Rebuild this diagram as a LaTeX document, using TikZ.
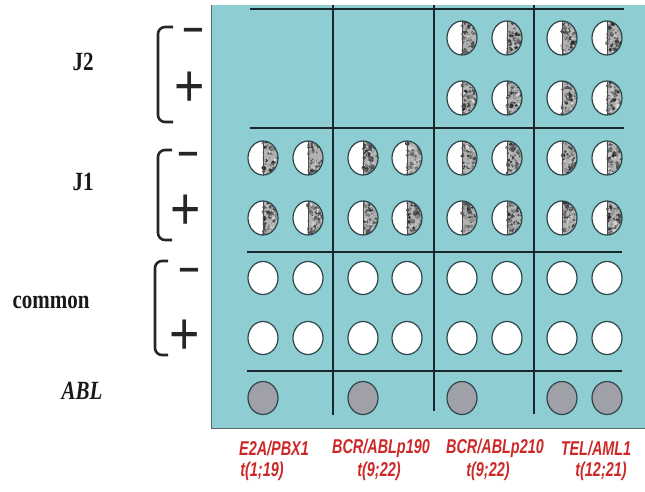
\documentclass[tikz,border=0pt]{standalone}
\usepackage{fontspec}
\setmainfont{Liberation Serif}
\newfontfamily\redfont[FakeStretch=0.72]{Liberation Sans}
\newfontfamily\signfont{Liberation Sans}
\usetikzlibrary{shapes.geometric}
\definecolor{bgteal}{RGB}{142,205,209}
\definecolor{lineclr}{RGB}{25,40,45}
\definecolor{edgeclr}{RGB}{45,70,75}
\definecolor{ablgray}{RGB}{160,160,168}
\definecolor{labred}{RGB}{204,40,40}
\tikzset{
  gridline/.style={draw=lineclr, line width=1.4pt},
  bracketline/.style={draw=black!85, line width=2.6pt, rounded corners=7pt},
  rowlab/.style={font=\bfseries\fontsize{21}{24}\selectfont, text=black!90, inner sep=0pt},
  signlab/.style={font=\signfont\fontsize{52}{52}\selectfont, text=black!85, inner sep=0pt},
  translab/.style={font=\redfont\bfseries\itshape\fontsize{20}{22}\selectfont, text=labred, inner sep=0pt},
  whitedot/.style={ellipse, draw=edgeclr, line width=1.2pt, fill=white, minimum width=30pt, minimum height=33pt, inner sep=0pt},
  abldot/.style={whitedot, fill=ablgray},
  moonedge/.style={draw=edgeclr, line width=1.2pt},
}
\newcommand\tallt[1]{\scalebox{1}[1.25]{#1}}
\newcommand\hmoon[2]{%
  \begin{scope}
    \clip (#1,#2) ellipse [x radius=15pt, y radius=17pt];
    \fill[white] (#1-16,#2-18) rectangle (#1,#2+18);
    \fill[gray!60] (#1,#2-18) rectangle (#1+16,#2+18);
    \foreach \k in {1,...,90}{%
      \pgfmathsetmacro\dx{rnd*15}%
      \pgfmathsetmacro\dy{rand*17}%
      \pgfmathsetmacro\sh{int(15+rnd*70)}%
      \pgfmathsetmacro\rr{0.7+rnd*1.5}%
      \fill[black!\sh] (#1+\dx,#2+\dy) circle [radius=\rr pt];
    }
    \draw[black!70, line width=0.6pt] (#1,#2-18) -- (#1,#2+18);
  \end{scope}
  \draw[moonedge] (#1,#2) ellipse [x radius=15pt, y radius=17pt];
}
\begin{document}
\begin{tikzpicture}[x=1pt, y=-1pt]
\pgfmathsetseed{7}
\useasboundingbox (0,0) rectangle (645,491);
% background panel
\fill[bgteal] (211,5) rectangle (645,428);
\draw[edgeclr!80, line width=0.8pt] (645,428) -- (211,428) -- (211,5);
% grid lines
\draw[gridline] (250,9) -- (624,9);
\draw[gridline] (250,128) -- (624,128);
\draw[gridline] (247,252) -- (622,252);
\draw[gridline] (247,371) -- (622,371);
\draw[gridline] (333,5) -- (333,415);
\draw[gridline] (434,5) -- (434,411);
\draw[gridline] (534,5) -- (534,414);
% J2 rows (columns 3 and 4)
\foreach \cx in {462,507,562,607}{
  \hmoon{\cx}{38}
  \hmoon{\cx}{98}
}
% J1 rows
\foreach \cx in {263,308,363,407,462,507,562,607}{
  \hmoon{\cx}{158}
  \hmoon{\cx}{218}
}
% common rows
\foreach \cx [count=\n] in {263,308,363,407,462,507,562,607}{
  \node[whitedot] (cm\n) at (\cx,278) {};
  \node[whitedot] (cp\n) at (\cx,338) {};
}
% ABL row
\foreach \cx [count=\n] in {263,363,462,562,607}{
  \node[abldot] (abl\n) at (\cx,398) {};
}
% brackets
\draw[bracketline] (173,27) -- (158,27) -- (158,122) -- (173,122);
\draw[bracketline] (172,150) -- (158,150) -- (158,240) -- (172,240);
\draw[bracketline] (168,261) -- (155,261) -- (155,355) -- (168,355);
% signs
\node[signlab] (j2m) at (193,38) {\scalebox{0.72}[1]{−}};
\node[signlab] (j2p) at (190,89) {\scalebox{1}[1.15]{+}};
\node[signlab] (j1m) at (188,162) {\scalebox{0.72}[1]{−}};
\node[signlab] (j1p) at (186,212) {\scalebox{1}[1.15]{+}};
\node[signlab] (cmm) at (189,278) {\scalebox{0.72}[1]{−}};
\node[signlab] (cmp) at (185,337) {\scalebox{1}[1.15]{+}};
% row labels
\node[rowlab] (lj2) at (83,62) {\tallt{J2}};
\node[rowlab] (lj1) at (83,182) {\tallt{J1}};
\node[rowlab] (lcom) at (51,302) {\tallt{common}};
\node[rowlab, font=\bfseries\itshape\fontsize{21}{24}\selectfont] (labl) at (82,391) {\tallt{ABL}};
% translocation labels
\node[translab] (t1a) at (274,448) {E2A/PBX1};
\node[translab] (t1b) at (262,471) {t(1;19)};
\node[translab] (t2a) at (381,448) {BCR/ABLp190};
\node[translab] (t2b) at (379,471) {t(9;22)};
\node[translab] (t3a) at (495,448) {BCR/ABLp210};
\node[translab] (t3b) at (488,471) {t(9;22)};
\node[translab] (t4a) at (596,448) {TEL/AML1};
\node[translab] (t4b) at (601,471) {t(12;21)};
\end{tikzpicture}
\end{document}
